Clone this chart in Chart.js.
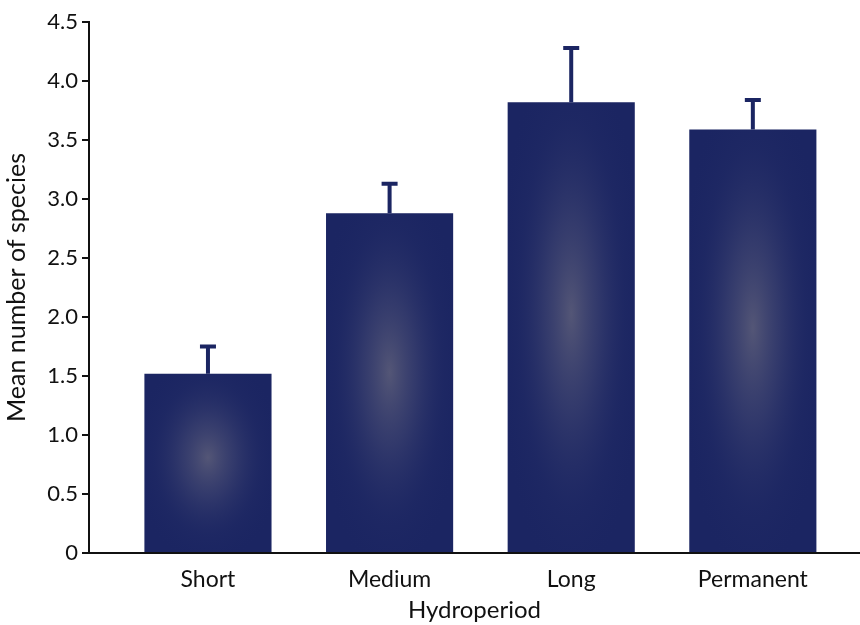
<!DOCTYPE html>
<html>
<head>
<meta charset="utf-8">
<script src="https://cdn.jsdelivr.net/npm/chart.js@4/dist/chart.umd.min.js"></script>
<style>
  html, body { margin: 0; padding: 0; background: #fff; }
  #wrap { width: 860px; height: 625px; }
</style>
</head>
<body>
<div id="wrap"><canvas id="speciesChart"></canvas></div>
<script>
const categories = ['Short', 'Medium', 'Long', 'Permanent'];
const meanSpecies = [1.52, 2.88, 3.82, 3.59];
const errorUp = [0.23, 0.25, 0.46, 0.25];
const yTicks = [0, 0.5, 1.0, 1.5, 2.0, 2.5, 3.0, 3.5, 4.0, 4.5];

const navy = '#1b2562';
const fontFamily = 'Lato, "Open Sans", sans-serif';

// soft greyish glow in the middle of each bar
const glowPlugin = {
    id: 'barGlow',
    afterDatasetsDraw(chart) {
        const ctx = chart.ctx;
        const meta = chart.getDatasetMeta(0);
        meta.data.forEach(bar => {
            const w = bar.width;
            const h = bar.base - bar.y;
            const left = bar.x - w / 2;
            ctx.save();
            ctx.beginPath();
            ctx.rect(left, bar.y, w, h);
            ctx.clip();
            ctx.translate(bar.x, bar.y + h * 0.47);
            ctx.scale(w * 0.6, h * 0.62);
            const g = ctx.createRadialGradient(0, 0, 0, 0, 0, 1);
            g.addColorStop(0, 'rgba(130, 126, 135, 0.55)');
            g.addColorStop(0.35, 'rgba(92, 94, 125, 0.35)');
            g.addColorStop(0.7, 'rgba(50, 58, 110, 0.12)');
            g.addColorStop(1, 'rgba(27, 37, 98, 0)');
            ctx.fillStyle = g;
            ctx.fillRect(-2, -2, 4, 4);
            ctx.restore();
        });
    }
};

// upper error bars only
const errorBarPlugin = {
    id: 'errorBars',
    afterDatasetsDraw(chart) {
        const ctx = chart.ctx;
        const yScale = chart.scales.y;
        const meta = chart.getDatasetMeta(0);
        ctx.save();
        ctx.strokeStyle = navy;
        ctx.lineWidth = 4;
        meta.data.forEach((bar, i) => {
            const top = yScale.getPixelForValue(meanSpecies[i] + errorUp[i]);
            ctx.beginPath();
            ctx.moveTo(bar.x, bar.y);
            ctx.lineTo(bar.x, top);
            ctx.moveTo(bar.x - 8, top);
            ctx.lineTo(bar.x + 8, top);
            ctx.stroke();
        });
        ctx.restore();
    }
};

const ctx = document.getElementById('speciesChart').getContext('2d');
const speciesChart = new Chart(ctx, {
    type: 'bar',
    data: {
        datasets: [{
            data: categories.map((c, i) => ({ x: i, y: meanSpecies[i] })),
            backgroundColor: navy,
            borderWidth: 0,
            barPercentage: 0.7,
            categoryPercentage: 1.0
        }]
    },
    options: {
        responsive: true,
        maintainAspectRatio: false,
        animation: false,
        layout: { padding: { top: 22, right: 0, left: 0, bottom: 0 } },
        plugins: {
            legend: { display: false },
            tooltip: { enabled: false }
        },
        scales: {
            x: {
                type: 'linear',
                offset: false,
                min: -0.655,
                max: 3.59,
                grid: { display: false },
                border: { color: '#111', width: 2 },
                ticks: {
                    stepSize: 1,
                    includeBounds: false,
                    autoSkip: false,
                    maxRotation: 0,
                    color: '#111',
                    padding: 5,
                    font: { family: fontFamily, size: 23 },
                    callback: v => (Number.isInteger(v) && categories[v]) ? categories[v] : ''
                },
                title: {
                    display: true,
                    text: 'Hydroperiod',
                    color: '#111',
                    padding: { top: 0, bottom: 0 },
                    font: { family: fontFamily, size: 24 }
                },
                afterFit: scale => { scale.height = 72; }
            },
            y: {
                min: 0,
                max: 4.5,
                afterBuildTicks: scale => { scale.ticks = yTicks.map(v => ({ value: v })); },
                grid: {
                    drawOnChartArea: false,
                    drawTicks: true,
                    tickLength: 7,
                    color: '#111',
                    lineWidth: 2
                },
                border: { color: '#111', width: 2 },
                ticks: {
                    color: '#111',
                    padding: 4,
                    font: { family: fontFamily, size: 22 },
                    callback: v => v === 0 ? '0' : v.toFixed(1)
                },
                title: {
                    display: true,
                    text: 'Mean number of species',
                    color: '#111',
                    padding: { top: 2, bottom: 4 },
                    font: { family: fontFamily, size: 25 }
                },
                afterFit: scale => { scale.width = 89; }
            }
        }
    },
    plugins: [glowPlugin, errorBarPlugin]
});
</script>
</body>
</html>
